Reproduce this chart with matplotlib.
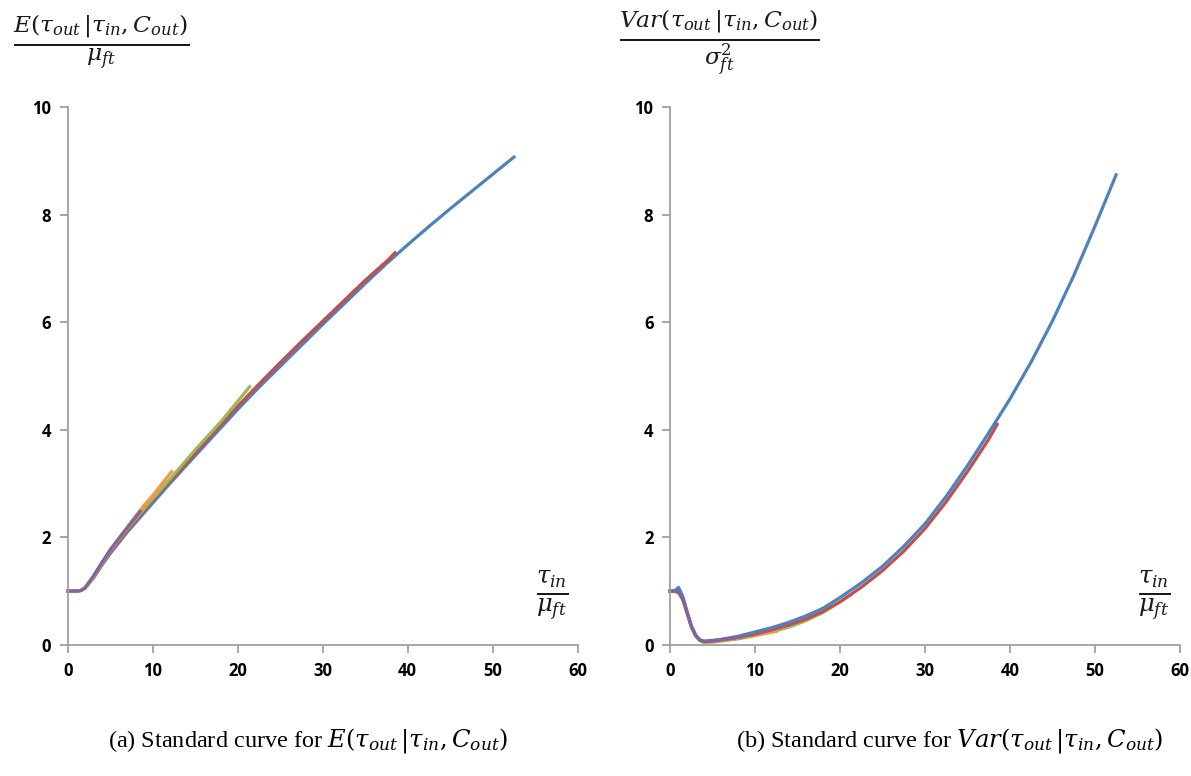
import matplotlib
matplotlib.use('Agg')
import matplotlib.pyplot as plt

plt.rcParams['mathtext.fontset'] = 'dejavuserif'

# Excel 2010 default palette
blue, red, green, purple, orange = '#4F81BD', '#C0504D', '#9BBB59', '#8064A2', '#F79646'

# --- (a) E(tau_out | tau_in, C_out) / mu_ft ---
xa_blue = [0, 1, 1.5, 2, 3, 4, 5, 6, 7, 8, 9, 10, 12, 15, 17.5, 20, 22.5, 25, 27.5,
           30, 32.5, 35, 37.5, 40, 42.5, 45, 47.5, 50, 52.5]
ea_blue = [1, 1, 1.01, 1.05, 1.24, 1.48, 1.7, 1.9, 2.1, 2.28, 2.46, 2.64, 3.0, 3.52, 3.95,
           4.38, 4.79, 5.18, 5.57, 5.96, 6.34, 6.72, 7.09, 7.44, 7.78, 8.11, 8.43, 8.75, 9.07]
xa_red = [0, 1, 1.5, 2, 3, 4, 5, 6, 7, 8, 9, 10, 12, 15, 17.5, 20, 22.5, 25, 27.5,
          30, 32.5, 35, 37.5, 38.5]
ea_red = [1, 1, 1.01, 1.05, 1.25, 1.5, 1.73, 1.93, 2.13, 2.32, 2.51, 2.7, 3.04, 3.57, 4.01,
          4.44, 4.85, 5.25, 5.64, 6.02, 6.4, 6.78, 7.13, 7.29]
xa_green = [0, 1, 1.5, 2, 3, 4, 5, 6, 7, 8, 9, 10, 12, 15, 18, 21.4]
ea_green = [1, 1, 1.01, 1.05, 1.26, 1.51, 1.75, 1.96, 2.16, 2.35, 2.54, 2.72, 3.08, 3.63, 4.15, 4.8]
xa_orange = [0, 1, 1.5, 2, 3, 4, 5, 6, 7, 8, 9, 10, 12.2]
ea_orange = [1, 1, 1.01, 1.05, 1.27, 1.52, 1.77, 1.98, 2.19, 2.4, 2.6, 2.78, 3.22]
xa_purple = [0, 1, 1.5, 2, 3, 4, 5, 6, 7, 8, 8.5]
ea_purple = [1, 1, 1.01, 1.06, 1.28, 1.53, 1.77, 1.98, 2.18, 2.38, 2.48]

# --- (b) Var(tau_out | tau_in, C_out) / sigma_ft^2 ---
xb_blue = [0, 0.5, 1, 1.5, 2, 2.5, 3, 3.5, 4, 5, 6, 8, 10, 12, 14, 16, 18, 20, 22.5, 25,
           27.5, 30, 32.5, 35, 37.5, 40, 42.5, 45, 47.5, 50, 52.5]
vb_blue = [1, 1, 1.07, 0.9, 0.62, 0.35, 0.18, 0.09, 0.07, 0.08, 0.1, 0.16, 0.24, 0.32, 0.42,
           0.54, 0.68, 0.88, 1.15, 1.46, 1.83, 2.25, 2.76, 3.33, 3.94, 4.57, 5.26, 6.02, 6.86,
           7.78, 8.74]
xb_red = [0, 0.5, 1, 1.5, 2, 2.5, 3, 3.5, 4, 5, 6, 8, 10, 12, 14, 16, 18, 20, 22.5, 25,
          27.5, 30, 32.5, 35, 37.5, 38.5]
vb_red = [1, 1, 0.98, 0.85, 0.6, 0.35, 0.18, 0.09, 0.06, 0.07, 0.09, 0.14, 0.2, 0.28, 0.37,
          0.48, 0.62, 0.8, 1.07, 1.38, 1.74, 2.16, 2.66, 3.22, 3.82, 4.1]
xb_green = [0, 0.5, 1, 1.5, 2, 2.5, 3, 3.5, 4, 5, 6, 8, 10, 12, 14, 16, 18, 20, 21.3]
vb_green = [1, 1, 0.97, 0.84, 0.6, 0.34, 0.17, 0.08, 0.05, 0.05, 0.07, 0.11, 0.17, 0.24,
            0.33, 0.45, 0.6, 0.8, 0.93]
xb_orange = [0, 0.5, 1, 1.5, 2, 2.5, 3, 3.5, 4, 5, 6, 8, 10, 12.5]
vb_orange = [1, 1, 0.97, 0.84, 0.6, 0.34, 0.17, 0.08, 0.05, 0.06, 0.08, 0.13, 0.18, 0.25]
xb_purple = [0, 0.5, 1, 1.5, 2, 2.5, 3, 3.5, 4, 5, 6, 8.5]
vb_purple = [1, 1, 0.99, 0.86, 0.61, 0.35, 0.18, 0.09, 0.06, 0.08, 0.1, 0.15]

xticks = [0, 10, 20, 30, 40, 50, 60]
yticks = [0, 2, 4, 6, 8, 10]

fig = plt.figure(figsize=(11.91, 7.76), dpi=100)
ax_a = fig.add_axes([0.057, 0.169, 0.428, 0.693])
ax_b = fig.add_axes([0.5626, 0.169, 0.428, 0.693])


def style_axis(ax):
    ax.set_xlim(0, 60)
    ax.set_ylim(0, 10)
    ax.set_xticks(xticks)
    ax.set_yticks(yticks)
    for s in ['top', 'right']:
        ax.spines[s].set_visible(False)
    for s in ['left', 'bottom']:
        ax.spines[s].set_color('#a0a0a0')
        ax.spines[s].set_linewidth(1.3)
    ax.tick_params(direction='out', length=6, width=1.3, color='#a0a0a0',
                   labelsize=12, pad=6)
    for lab in ax.get_xticklabels() + ax.get_yticklabels():
        lab.set_fontweight('bold')
        lab.set_family('Open Sans')


lw = 2.3
ax_a.plot(xa_blue, ea_blue, color=blue, lw=lw, clip_on=False)
ax_a.plot(xa_red, ea_red, color=red, lw=lw, clip_on=False)
ax_a.plot(xa_green, ea_green, color=green, lw=lw, clip_on=False)
ax_a.plot(xa_orange, ea_orange, color=orange, lw=lw, clip_on=False)
ax_a.plot(xa_purple, ea_purple, color=purple, lw=lw, clip_on=False)

ax_b.plot(xb_green, vb_green, color=green, lw=lw, clip_on=False)
ax_b.plot(xb_orange, vb_orange, color=orange, lw=lw, clip_on=False)
ax_b.plot(xb_red, vb_red, color=red, lw=lw, clip_on=False)
ax_b.plot(xb_blue, vb_blue, color=blue, lw=lw, clip_on=False)
ax_b.plot(xb_purple, vb_purple, color=purple, lw=lw, clip_on=False)

style_axis(ax_a)
style_axis(ax_b)

txt = '#1a1a1a'
fig.text(0.085, 0.945, r'$\frac{E(\tau_{out}\,|\tau_{in},C_{out})}{\mu_{ft}}$',
         ha='center', va='center', fontsize=24, color=txt)
fig.text(0.604, 0.945, r'$\frac{Var(\tau_{out}\,|\tau_{in},C_{out})}{\sigma_{ft}^2}$',
         ha='center', va='center', fontsize=24, color=txt)

ax_a.text(57, 0.9, r'$\frac{\tau_{in}}{\mu_{ft}}$', ha='center', va='center',
          fontsize=25, color=txt)
ax_b.text(57, 0.9, r'$\frac{\tau_{in}}{\mu_{ft}}$', ha='center', va='center',
          fontsize=25, color=txt)

fig.text(0.259, 0.046, r'(a) Standard curve for $E(\tau_{out}\,|\tau_{in},C_{out})$',
         ha='center', va='center', fontsize=17.5, family='Liberation Serif')
fig.text(0.797, 0.046, r'(b) Standard curve for $Var(\tau_{out}\,|\tau_{in},C_{out})$',
         ha='center', va='center', fontsize=17.5, family='Liberation Serif')

fig.savefig('out.png', dpi=100)
